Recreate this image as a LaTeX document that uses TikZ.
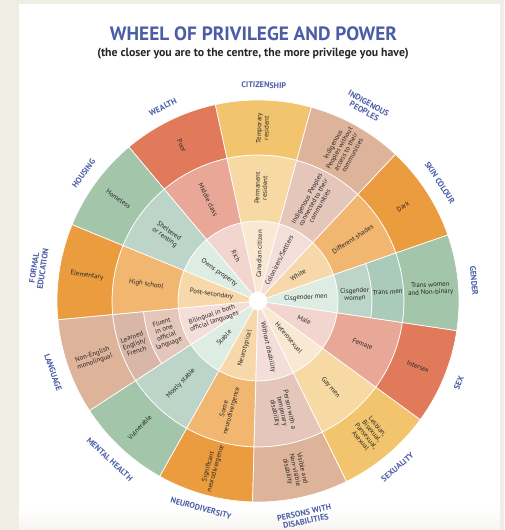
\documentclass[tikz,border=0pt]{standalone}
\usepackage{fontspec}
\setmainfont{PT Sans}
\usetikzlibrary{calc}
\definecolor{pagebeige}{HTML}{EFEDE4}
\definecolor{wheelblue}{HTML}{4B5DA6}
\definecolor{redO}{HTML}{E07A5B}
\definecolor{redM}{HTML}{E9A797}
\definecolor{redI}{HTML}{F3D5CF}
\definecolor{yelO}{HTML}{F2C46D}
\definecolor{yelM}{HTML}{F6D9A3}
\definecolor{yelI}{HTML}{F9E9D2}
\definecolor{tanO}{HTML}{DDB399}
\definecolor{tanM}{HTML}{E4C6BB}
\definecolor{tanMM}{HTML}{D9B7A8}
\definecolor{tanI}{HTML}{F4DEDA}
\definecolor{oraO}{HTML}{EA9C3F}
\definecolor{oraM}{HTML}{F1B66F}
\definecolor{oraI}{HTML}{F7D8AA}
\definecolor{grnO}{HTML}{A3C5A9}
\definecolor{grnM}{HTML}{BDD4C9}
\definecolor{grnMM}{HTML}{ABCBBA}
\definecolor{grnI}{HTML}{DEEDE4}
\def\ringpart[#1](#2:#3:#4:#5){\filldraw[#1] (#2:#4) arc (#2:#3:#4) -- (#3:#5) arc (#3:#2:#5) -- cycle;}

\begin{document}
\begin{tikzpicture}[x=1pt,y=1pt,
		segline/.style={draw=white, line width=0.7pt},
		seglbl/.style={font=\fontsize{6.8}{7.4}\selectfont, text=black!85, align=center, inner sep=0pt},
		catlbl/.style={font=\fontsize{8.2}{8.8}\selectfont\bfseries, text=wheelblue, align=center, inner sep=0pt}]
		%%%%% START %%%%%
		
		\fill[pagebeige] (-258, -229) rectangle (246, 301);
		\fill[white] (-239, -229) rectangle (242, 297);
		\shade[top color=white, bottom color=pagebeige!60] (-239, -229) rectangle (242, -208);
		
		\node[font=\fontsize{19.3}{22}\selectfont\bfseries, text=wheelblue] (title) at (-4.5, 267.5) {WHEEL OF PRIVILEGE AND POWER};
		\node[font=\fontsize{11.8}{13}\selectfont\bfseries, text=black!85] (subtitle) at (-5, 247.5) {(the closer you are to the centre, the more privilege you have)};
		
		% citizenship
		\ringpart[segline, fill=yelI](74.60:102.29:9:80)
		\ringpart[segline, fill=yelM](74.60:102.29:80:146)
		\ringpart[segline, fill=yelO](74.60:102.29:146:201)
		% wealth
		\ringpart[segline, fill=redI](102.29:129.98:9:80)
		\ringpart[segline, fill=redM](102.29:129.98:80:146)
		\ringpart[segline, fill=redO](102.29:129.98:146:201)
		% housing
		\ringpart[segline, fill=grnI](129.98:157.68:9:80)
		\ringpart[segline, fill=grnM](129.98:157.68:80:146)
		\ringpart[segline, fill=grnO](129.98:157.68:146:201)
		% formal education
		\ringpart[segline, fill=oraI](157.68:185.37:9:80)
		\ringpart[segline, fill=oraM](157.68:185.37:80:146)
		\ringpart[segline, fill=oraO](157.68:185.37:146:201)
		% language
		\ringpart[segline, fill=tanI](185.37:213.06:9:80)
		\ringpart[segline, fill=tanM](185.37:213.06:80:115)
		\ringpart[segline, fill=tanMM](185.37:213.06:115:146)
		\ringpart[segline, fill=tanO](185.37:213.06:146:201)
		% mental health
		\ringpart[segline, fill=grnI](213.06:240.75:9:80)
		\ringpart[segline, fill=grnM](213.06:240.75:80:146)
		\ringpart[segline, fill=grnO](213.06:240.75:146:201)
		% neurodiversity
		\ringpart[segline, fill=oraI](240.75:268.45:9:80)
		\ringpart[segline, fill=oraM](240.75:268.45:80:146)
		\ringpart[segline, fill=oraO](240.75:268.45:146:201)
		% persons with disabilities
		\ringpart[segline, fill=tanI](268.45:296.14:9:80)
		\ringpart[segline, fill=tanM](268.45:296.14:80:146)
		\ringpart[segline, fill=tanO](268.45:296.14:146:201)
		% sexuality
		\ringpart[segline, fill=yelI](296.14:323.83:9:80)
		\ringpart[segline, fill=yelM](296.14:323.83:80:146)
		\ringpart[segline, fill=yelO](296.14:323.83:146:201)
		% sex
		\ringpart[segline, fill=redI](323.83:351.52:9:80)
		\ringpart[segline, fill=redM](323.83:351.52:80:146)
		\ringpart[segline, fill=redO](323.83:351.52:146:201)
		% gender
		\ringpart[segline, fill=grnI](351.52:379.22:9:80)
		\ringpart[segline, fill=grnM](351.52:379.22:80:114)
		\ringpart[segline, fill=grnMM](351.52:379.22:114:146)
		\ringpart[segline, fill=grnO](351.52:379.22:146:201)
		% skin colour
		\ringpart[segline, fill=oraI](19.22:46.91:9:80)
		\ringpart[segline, fill=oraM](19.22:46.91:80:146)
		\ringpart[segline, fill=oraO](19.22:46.91:146:201)
		% indigenous peoples
		\ringpart[segline, fill=tanI](46.91:74.60:9:80)
		\ringpart[segline, fill=tanM](46.91:74.60:80:146)
		\ringpart[segline, fill=tanO](46.91:74.60:146:201)
		
		\fill[white] (0, 0) circle (9);
		
		% ring texts
		\node[seglbl, rotate=88.45] (canadian) at (88.45:47) {Canadian citizen};
		\node[seglbl, rotate=88.45] (permanent) at (88.45:113) {Permanent\\resident};
		\node[seglbl, rotate=88.45] (temporary) at (88.45:173) {Temporary\\resident};
		
		\node[seglbl, rotate=-63.86] (rich) at (116.14:50) {Rich};
		\node[seglbl, rotate=-63.86] (middle) at (116.14:113) {Middle class};
		\node[seglbl, rotate=-63.86] (poor) at (116.14:173) {Poor};
		
		\node[seglbl, rotate=-36.17] (owns) at (143.83:48) {Owns property};
		\node[seglbl, rotate=-36.17] (sheltered) at (143.83:113) {Sheltered\\or renting};
		\node[seglbl, rotate=-36.17] (homeless) at (143.83:173) {Homeless};
		
		\node[seglbl, rotate=-8.48] (postsec) at (171.52:47) {Post-secondary};
		\node[seglbl, rotate=-8.48] (highschool) at (171.52:113) {High school};
		\node[seglbl, rotate=-8.48] (elementary) at (171.52:173) {Elementary};
		
		\node[seglbl, rotate=19.22] (bilingual) at (201:48) {Bilingual in both\\official languages};
		\node[seglbl, rotate=19.22] (fluent) at (199.2:98) {Fluent\\in one\\official\\language};
		\node[seglbl, rotate=19.22] (learned) at (199.2:131) {Learned\\English/\\French};
		\node[seglbl, rotate=19.22] (nonenglish) at (199.2:174) {Non-English\\monolingual};
		
		\node[seglbl, rotate=46.91] (stable) at (226.91:50) {Stable};
		\node[seglbl, rotate=46.91] (mostly) at (226.91:113) {Mostly stable};
		\node[seglbl, rotate=46.91] (vulnerable) at (226.91:173) {Vulnerable};
		
		\node[seglbl, rotate=74.6] (neurotypical) at (254.6:49) {Neurotypical};
		\node[seglbl, rotate=74.6] (someneuro) at (254.6:113) {Some\\neurodivergence};
		\node[seglbl, rotate=74.6] (sigdiv) at (254.6:173) {Significant\\neurodivergence};
		
		\node[seglbl, rotate=-77.71] (without) at (282.29:47) {Without disability};
		\node[seglbl, rotate=-77.71] (temporarydis) at (282.29:113) {Person with a\\temporary\\disability};
		\node[seglbl, rotate=-77.71] (visible) at (282.29:173) {Visible and\\Non-visible\\disability};
		
		\node[seglbl, rotate=-50.02] (hetero) at (309.98:48) {Heterosexual};
		\node[seglbl, rotate=-50.02] (gaymen) at (309.98:113) {Gay men};
		\node[seglbl, rotate=-50.02] (lesbian) at (309.98:173) {Lesbian,\\Bisexual,\\Pansexual,\\Asexual};
		
		\node[seglbl, rotate=-22.32] (male) at (337.68:50) {Male};
		\node[seglbl, rotate=-22.32] (female) at (337.68:113) {Female};
		\node[seglbl, rotate=-22.32] (intersex) at (337.68:173) {Intersex};
		
		\node[seglbl, rotate=3] (cismen) at (4:48) {Cisgender men};
		\node[seglbl, rotate=3] (ciswomen) at (4:97) {Cisgender\\women};
		\node[seglbl, rotate=3] (transmen) at (4:130) {Trans men};
		\node[seglbl, rotate=3] (transwomen) at (4:173) {Trans women\\and Non-binary};
		
		\node[seglbl, rotate=33.06] (white) at (33.06:48) {White};
		\node[seglbl, rotate=33.06] (shades) at (33.06:113) {Different shades};
		\node[seglbl, rotate=33.06] (dark) at (33.06:173) {Dark};
		
		\node[seglbl, rotate=63] (colonizers) at (62:46) {Colonizers/Settlers};
		\node[seglbl, rotate=60.75] (connected) at (60.75:113) {Indigenous Peoples\\connected to their\\communities};
		\node[seglbl, rotate=60.75] (noaccess) at (60.75:173) {Indigenous\\Peoples without\\access to their\\communities};
		
		% category names round the wheel
		\node[catlbl, rotate=-1.55] (citizenship) at (88.45:216) {CITIZENSHIP};
		\node[catlbl, rotate=26.14] (wealth) at (116.14:216) {WEALTH};
		\node[catlbl, rotate=53.83] (housing) at (143.83:216) {HOUSING};
		\node[catlbl, rotate=81.52] (education) at (171.52:222) {FORMAL\\EDUCATION};
		\node[catlbl, rotate=-70.78] (language) at (199.22:217) {LANGUAGE};
		\node[catlbl, rotate=-43.09] (mental) at (226.91:217) {MENTAL HEALTH};
		\node[catlbl, rotate=-15.4] (neurodiv) at (254.6:215) {NEURODIVERSITY};
		\node[catlbl, rotate=12.29] (disabilities) at (282.29:221) {PERSONS WITH\\DISABILITIES};
		\node[catlbl, rotate=39.98] (sexuality) at (309.98:217) {SEXUALITY};
		\node[catlbl, rotate=67.68] (sex) at (337.68:217) {SEX};
		\node[catlbl, rotate=-84.63] (gender) at (5.37:217) {GENDER};
		\node[catlbl, rotate=-56.94] (skin) at (33.06:217) {SKIN COLOUR};
		\node[catlbl, rotate=-29.25] (indigenous) at (60.75:222) {INDIGENOUS\\PEOPLES};
		
		%%%%% END %%%%%
	\end{tikzpicture}
\end{document}
